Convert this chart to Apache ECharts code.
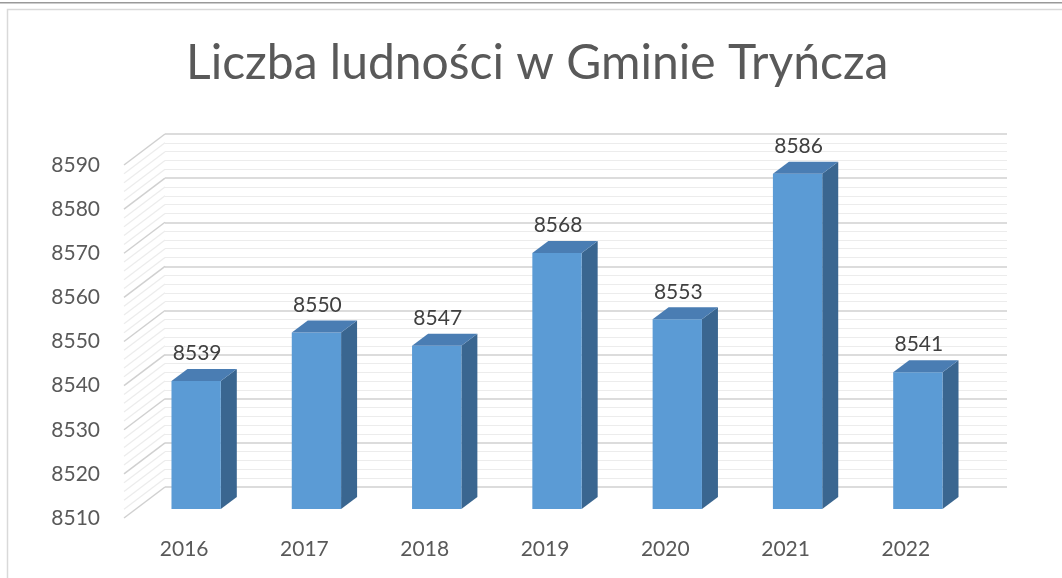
<!DOCTYPE html>
<html>
<head>
<meta charset="utf-8">
<script src="https://cdn.jsdelivr.net/npm/echarts@6/dist/echarts.min.js"></script>
<style>
html,body{margin:0;padding:0;background:#fff;}
#chart{width:1062px;height:578px;}
</style>
</head>
<body>
<div id="chart"></div>
<script>
// ---- data ----
const categories = ['2016', '2017', '2018', '2019', '2020', '2021', '2022'];
const population = [8539, 8550, 8547, 8568, 8553, 8586, 8541];
const yTicks = [8510, 8520, 8530, 8540, 8550, 8560, 8570, 8580, 8590];
const chartTitle = 'Liczba ludności w Gminie Tryńcza';

// ---- layout / style constants ----
const Y_MIN = 8510, Y_MAX = 8590, Y_STEP = 10;
const FONT = 'Lato';
const WALL_DX = 41, WALL_DY = -31;   // depth of the 3D box
const BAR_OX = 12, BAR_OY = -9;      // bar front plane offset
const BAR_DX = 16, BAR_DY = -12;     // bar depth
const GRID = {left: 124, right: 96, top: 165, bottom: 60};

const chart = echarts.init(document.getElementById('chart'));

function renderWall(params, api) {
  const v = api.value(1);
  const cs = params.coordSys;
  const x0 = cs.x;
  const children = [];
  const p = api.coord([0, v]);
  children.push({type: 'line', shape: {x1: x0, y1: p[1], x2: x0 + WALL_DX, y2: p[1] + WALL_DY},
    style: {stroke: '#d0d0d0', lineWidth: 1.5}});
  if (v < Y_MAX) {
    for (let k = 1; k < 5; k++) {
      const q = api.coord([0, v + k * Y_STEP / 5]);
      children.push({type: 'line', shape: {x1: x0, y1: q[1], x2: x0 + WALL_DX, y2: q[1] + WALL_DY},
        style: {stroke: '#ececec', lineWidth: 1.2}});
    }
  }
  return {type: 'group', children: children};
}

function renderBar(params, api) {
  const i = api.value(0), v = api.value(1);
  const top = api.coord([i, v]);
  const bot = api.coord([i, Y_MIN]);
  const bw = api.size([1, 0])[0] * 0.41;
  const xl = top[0] - bw / 2 + BAR_OX, xr = xl + bw;
  const yt = top[1] + BAR_OY, yb = bot[1] + BAR_OY;
  return {
    type: 'group',
    children: [
      {type: 'polygon', shape: {points: [[xr, yt], [xr + BAR_DX, yt + BAR_DY], [xr + BAR_DX, yb + BAR_DY], [xr, yb]]},
        style: {fill: '#3a6690'}},
      {type: 'rect', shape: {x: xl, y: yt, width: bw, height: yb - yt}, style: {fill: '#5b9bd5'}},
      {type: 'polygon', shape: {points: [[xl, yt], [xl + BAR_DX, yt + BAR_DY], [xr + BAR_DX, yt + BAR_DY], [xr, yt]]},
        style: {fill: '#4a7db3'}},
      {type: 'text', style: {text: String(v), x: (xl + xr) / 2 + 1, y: yt + BAR_DY - 5,
        align: 'center', verticalAlign: 'bottom', fontFamily: FONT, fontSize: 21, fill: '#404040'}}
    ]
  };
}

const option = {
  animation: false,
  backgroundColor: '#ffffff',
  title: {
    text: chartTitle,
    left: 186,
    top: 35,
    padding: [5, 0, 5, 0],
    textStyle: {fontFamily: FONT, fontSize: 48, fontWeight: 'normal', color: '#595959'}
  },
  graphic: [
    {type: 'rect', shape: {x: 0, y: 2, width: 1062, height: 1}, style: {fill: '#999999'}, silent: true},
    {type: 'rect', shape: {x: 0, y: 3, width: 1062, height: 1}, style: {fill: '#cccccc'}, silent: true},
    {type: 'rect', shape: {x: 7.5, y: 9.5, width: 1070, height: 600}, style: {fill: 'none', stroke: '#d9d9d9', lineWidth: 1.5}, silent: true}
  ],
  grid: [
    {left: GRID.left, right: GRID.right, top: GRID.top, bottom: GRID.bottom},
    {left: GRID.left + WALL_DX, right: GRID.right - WALL_DX, top: GRID.top + WALL_DY, bottom: GRID.bottom - WALL_DY}
  ],
  xAxis: [
    {type: 'category', gridIndex: 0, data: categories,
      axisLine: {show: false}, axisTick: {show: false},
      axisLabel: {margin: 21, fontFamily: FONT, fontSize: 21, color: '#595959'}},
    {type: 'category', gridIndex: 1, data: categories, show: false}
  ],
  yAxis: [
    {type: 'value', gridIndex: 0, min: Y_MIN, max: Y_MAX, interval: Y_STEP,
      axisLine: {show: false}, axisTick: {show: false}, splitLine: {show: false},
      axisLabel: {margin: 24, fontFamily: FONT, fontSize: 21, color: '#595959',
        formatter: v => String(v)}},
    {type: 'value', gridIndex: 1, min: Y_MIN, max: Y_MAX, interval: Y_STEP,
      axisLine: {show: false}, axisTick: {show: false}, axisLabel: {show: false},
      splitLine: {show: true, lineStyle: {color: '#d0d0d0', width: 1.5}},
      minorTick: {show: false, splitNumber: 5},
      minorSplitLine: {show: true, lineStyle: {color: '#ececec', width: 1.2}}}
  ],
  series: [
    {type: 'custom', xAxisIndex: 0, yAxisIndex: 0, z: 1, silent: true,
      renderItem: renderWall, data: yTicks.map(v => [0, v])},
    {type: 'custom', xAxisIndex: 0, yAxisIndex: 0, z: 5,
      renderItem: renderBar, data: population.map((v, i) => [i, v])}
  ]
};
chart.setOption(option);
</script>
</body>
</html>
